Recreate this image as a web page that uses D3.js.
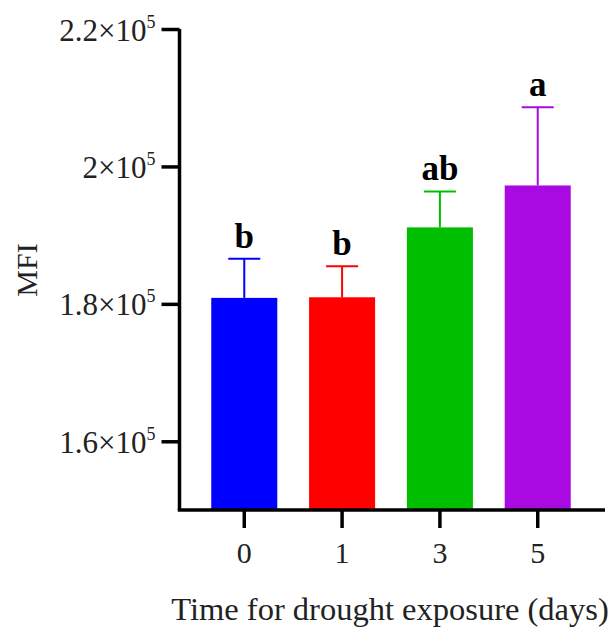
<!DOCTYPE html>
<html>
<head>
<meta charset="utf-8">
<script src="https://cdn.jsdelivr.net/npm/d3@7"></script>
<style>
  body { margin: 0; background: #fff; }
  svg text { font-family: "Liberation Serif", "Times New Roman", serif; fill: #222; }
</style>
</head>
<body>
<div id="chart"></div>
<script>
// data
var days = ['0', '1', '3', '5'];
var mfi = [180870, 180960, 191130, 197230];
var sd = [5700, 4500, 5230, 11400];
var letters = ['b', 'b', 'ab', 'a'];
var colors = ['#0000ff', '#ff0000', '#00bf00', '#aa0ae2'];
var yTicks = [160000, 180000, 200000, 220000];
var yTickLabels = ['1.6', '1.8', '2', '2.2'];

var width = 611, height = 627;

var svg = d3.select('#chart').append('svg')
    .attr('width', width)
    .attr('height', height);

var x = d3.scaleBand()
    .domain(days)
    .range([178, 604])
    .paddingInner(0.325)
    .paddingOuter(0.34);

var y = d3.scaleLinear()
    .domain([150000, 220000])
    .range([510, 29]);

// bars
svg.selectAll('.bar')
    .data(mfi)
  .enter().append('rect')
    .attr('class', 'bar')
    .attr('x', function(d, i) { return x(days[i]); })
    .attr('width', x.bandwidth())
    .attr('y', function(d) { return y(d); })
    .attr('height', function(d) { return y(150000) - y(d); })
    .attr('fill', function(d, i) { return colors[i]; });

// error bars (upper only)
var eb = svg.selectAll('.err')
    .data(mfi)
  .enter().append('g')
    .attr('class', 'err')
    .attr('stroke', function(d, i) { return colors[i]; })
    .attr('stroke-width', 2);

eb.append('line')
    .attr('x1', function(d, i) { return x(days[i]) + x.bandwidth() / 2; })
    .attr('x2', function(d, i) { return x(days[i]) + x.bandwidth() / 2; })
    .attr('y1', function(d) { return y(d); })
    .attr('y2', function(d, i) { return y(d + sd[i]); });

eb.append('line')
    .attr('x1', function(d, i) { return x(days[i]) + x.bandwidth() / 2 - 16; })
    .attr('x2', function(d, i) { return x(days[i]) + x.bandwidth() / 2 + 16; })
    .attr('y1', function(d, i) { return y(d + sd[i]); })
    .attr('y2', function(d, i) { return y(d + sd[i]); });

// significance letters
svg.selectAll('.sig')
    .data(mfi)
  .enter().append('text')
    .attr('class', 'sig')
    .attr('x', function(d, i) { return x(days[i]) + x.bandwidth() / 2; })
    .attr('y', function(d, i) { return y(d + sd[i]) - 11; })
    .attr('text-anchor', 'middle')
    .style('font-size', '35px')
    .style('font-weight', 'bold')
    .style('fill', '#000')
    .text(function(d, i) { return letters[i]; });

// y axis
var yAxis = svg.append('g')
    .attr('transform', 'translate(179.5,0)')
    .call(d3.axisLeft(y).tickValues(yTicks).tickSize(18).tickSizeOuter(0).tickFormat(''));

yAxis.select('.domain').attr('stroke', '#000').attr('stroke-width', 3.5)
    .attr('d', 'M0,' + y(220000) + 'V' + y(150000));
yAxis.selectAll('.tick line').attr('stroke', '#000').attr('stroke-width', 3.5);
yAxis.selectAll('.tick text').remove();

yAxis.selectAll('.tick').append('text')
    .attr('x', -24)
    .attr('y', 11)
    .attr('text-anchor', 'end')
    .style('font-size', '31px')
    .each(function(d, i) {
      var t = d3.select(this);
      t.append('tspan').text(yTickLabels[i] + '×10');
      t.append('tspan').attr('dy', -13).style('font-size', '18px').text('5');
    });

// x axis
var xAxis = svg.append('g')
    .attr('transform', 'translate(0,510)')
    .call(d3.axisBottom(x).tickSize(18).tickSizeOuter(0));

xAxis.select('.domain').attr('stroke', '#000').attr('stroke-width', 3.5)
    .attr('d', 'M177.75,0H605');
xAxis.selectAll('.tick line').attr('stroke', '#000').attr('stroke-width', 3.5);
xAxis.selectAll('.tick text')
    .attr('y', 53)
    .attr('dy', 0)
    .style('font-size', '30px')
    .style('font-family', '"Liberation Serif", serif')
    .style('fill', '#222');

// axis titles
svg.append('text')
    .attr('transform', 'translate(37,270) rotate(-90)')
    .attr('text-anchor', 'middle')
    .style('font-size', '30px')
    .text('MFI');

svg.append('text')
    .attr('x', 390)
    .attr('y', 620)
    .attr('text-anchor', 'middle')
    .style('font-size', '32.5px')
    .text('Time for drought exposure (days)');
</script>
</body>
</html>
